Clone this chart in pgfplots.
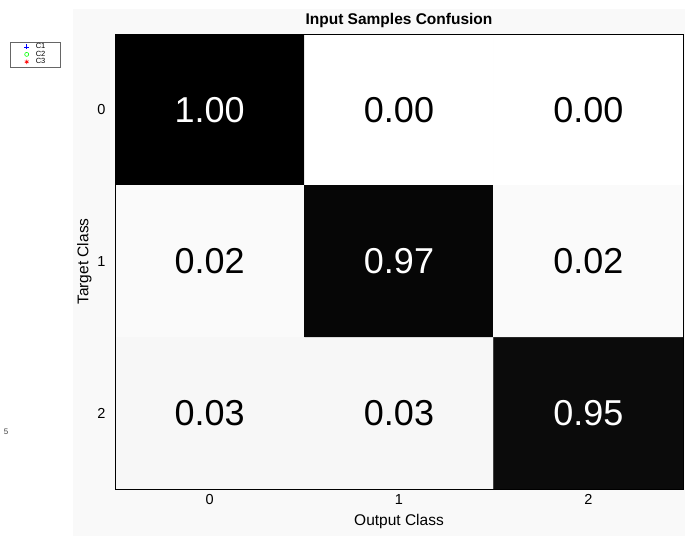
\documentclass[border=0pt]{standalone}
\usepackage{pgfplots}
\pgfplotsset{compat=1.18}
\usepackage{fontspec}
\setmainfont{Liberation Sans}

\definecolor{panelgray}{gray}{0.975}
\definecolor{legblue}{rgb}{0,0,1}
\definecolor{leggreen}{rgb}{0,1,0}
\definecolor{legred}{rgb}{1,0,0}

\begin{document}
\begin{tikzpicture}
  % page and figure panel
  \path[use as bounding box, fill=white] (0pt,0pt) rectangle (686pt,536pt);
  \fill[panelgray] (73pt,0pt) rectangle (685pt,527pt);

  % normalised confusion matrix (rows: target, columns: output)
  \begin{axis}[
    at={(115pt,47pt)}, anchor=south west,
    scale only axis, width=568pt, height=455pt,
    xmin=-0.5, xmax=2.5, ymin=-0.5, ymax=2.5,
    y dir=reverse,
    xtick={0,1,2}, ytick={0,1,2},
    major tick length=0pt,
    tick label style={font=\fontsize{14.5}{16}\selectfont},
    /pgf/number format/assume math mode=true,
    xticklabel style={yshift=-2pt},
    yticklabel style={xshift=-6pt},
    xlabel={Output Class}, ylabel={Target Class},
    label style={font=\fontsize{15.5}{17}\selectfont},
    xlabel style={yshift=-3pt},
    ylabel style={yshift=-1pt},
    title={\textbf{Input Samples Confusion}},
    title style={font=\fontsize{15.5}{17}\selectfont, yshift=-3pt},
    colormap={revgray}{gray(0cm)=(1); gray(1cm)=(0)},
    point meta min=0, point meta max=1,
    axis line style={black, line width=0.6pt},
    axis on top,
  ]
    \addplot[matrix plot*, mesh/cols=3, point meta=explicit] table[meta=v] {
      x y v
      0 0 1.00
      1 0 0.00
      2 0 0.00
      0 1 0.02
      1 1 0.97
      2 1 0.02
      0 2 0.03
      1 2 0.03
      2 2 0.95
    };
    % cell values on dark cells
    \addplot[draw=none, mark=none, point meta=explicit,
      nodes near coords={\pgfmathprintnumber[fixed,zerofill,precision=2,assume math mode=true]{\pgfplotspointmeta}},
      nodes near coords style={anchor=center, text=white, font=\fontsize{36}{38}\selectfont}]
      table[meta=v] {
      x y v
      0 0 1.00
      1 1 0.97
      2 2 0.95
    };
    % cell values on light cells
    \addplot[draw=none, mark=none, point meta=explicit,
      nodes near coords={\pgfmathprintnumber[fixed,zerofill,precision=2,assume math mode=true]{\pgfplotspointmeta}},
      nodes near coords style={anchor=center, text=black, font=\fontsize{36}{38}\selectfont}]
      table[meta=v] {
      x y v
      1 0 0.00
      2 0 0.00
      0 1 0.02
      2 1 0.02
      0 2 0.03
      1 2 0.03
    };
  \end{axis}

  % class legend of the scatter panel
  \begin{axis}[
    at={(10pt,469pt)}, anchor=south west,
    scale only axis, width=20pt, height=20pt,
    hide axis, xmin=0, xmax=1, ymin=0, ymax=1,
    legend style={at={(0,0)}, anchor=south west, draw=black!60,
      font=\fontsize{7.5}{7.5}\selectfont, inner xsep=14pt, inner ysep=1pt,
      row sep=-0.5pt, fill=white, line width=0.4pt,
      nodes={inner sep=0.6pt},
      /tikz/every odd column/.append style={column sep=6pt}},
    legend cell align=left,
  ]
    \addlegendimage{only marks, mark=+, mark size=2.5pt, legblue, semithick}
    \addlegendentry{C1}
    \addlegendimage{only marks, mark=o, mark size=2pt, leggreen, semithick}
    \addlegendentry{C2}
    \addlegendimage{only marks, mark=asterisk, mark size=2.2pt, legred, semithick}
    \addlegendentry{C3}
  \end{axis}

  % clipped tick label of the neighbouring panel
  \node[font=\fontsize{8}{8}\selectfont, text=black!75] at (6pt,104pt) {5};
\end{tikzpicture}
\end{document}
